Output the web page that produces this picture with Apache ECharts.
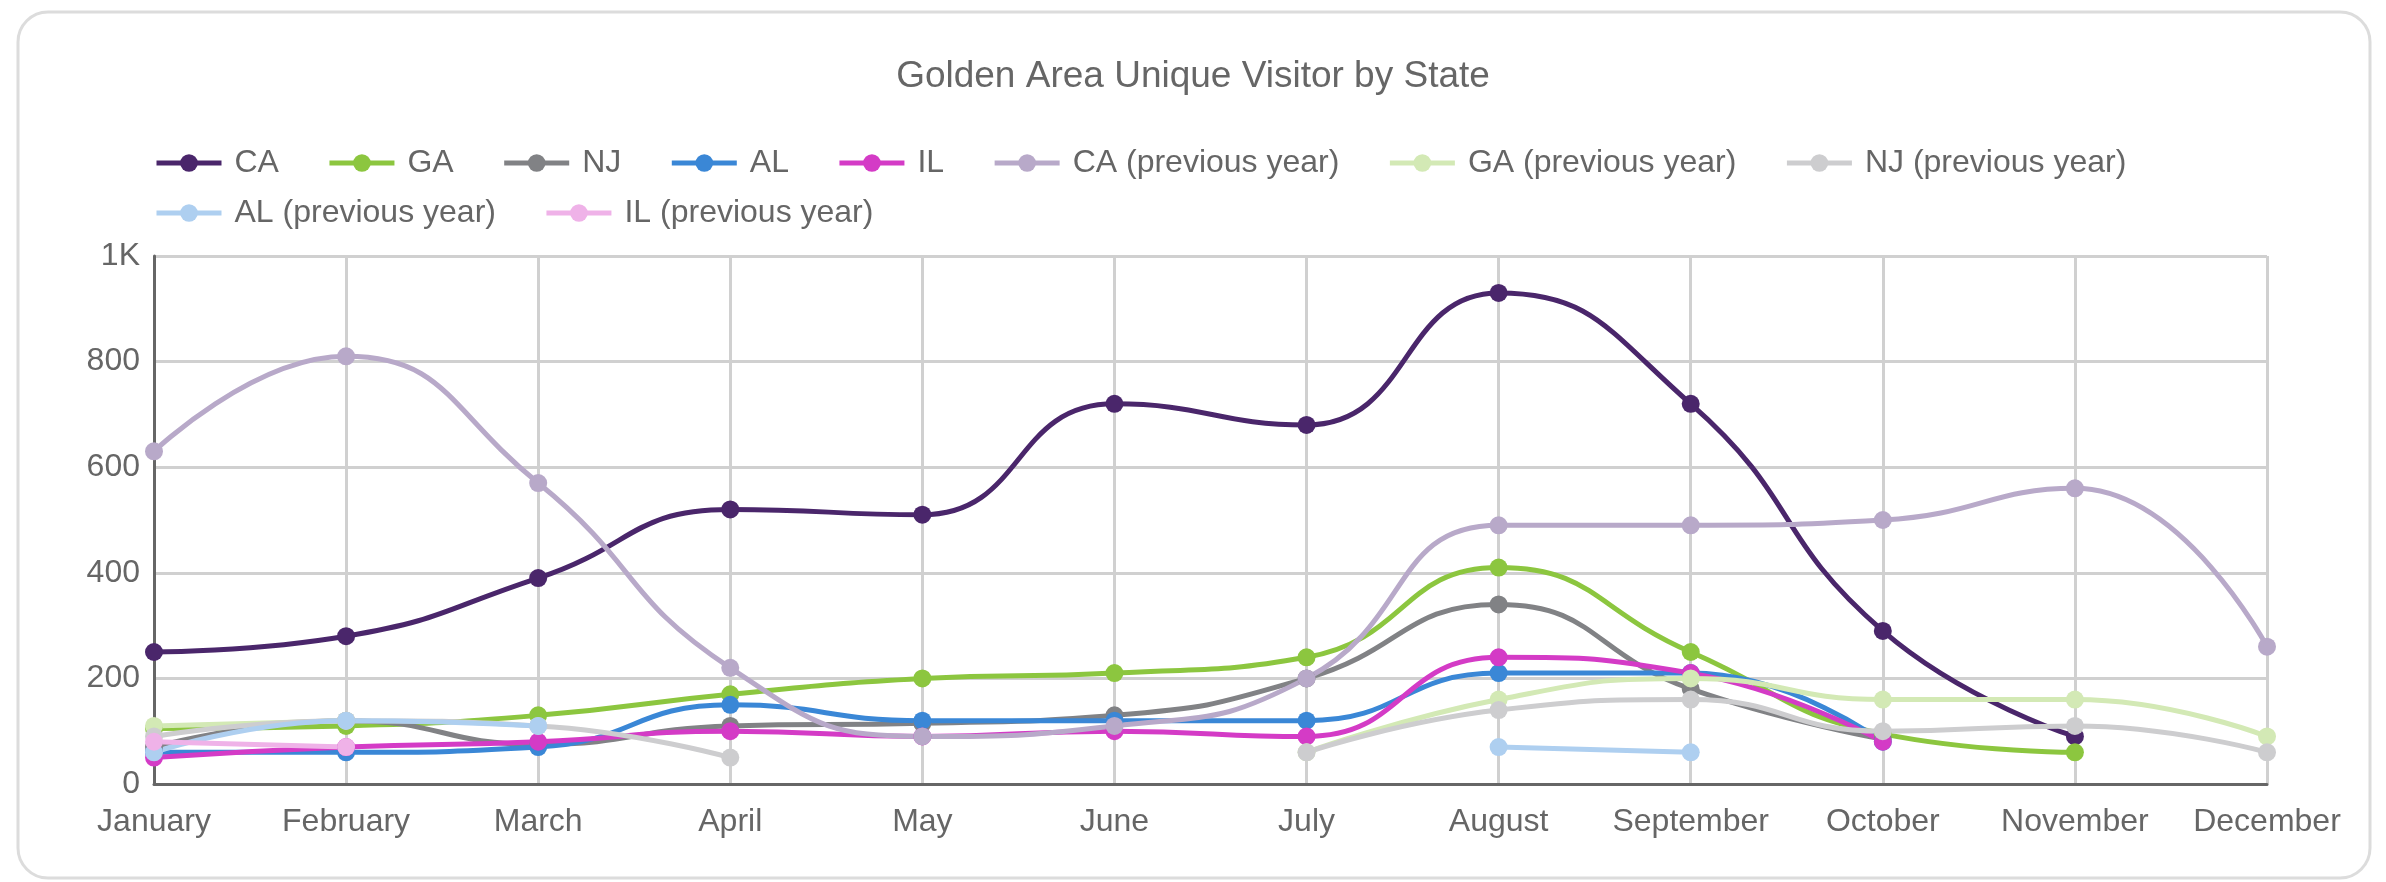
<!DOCTYPE html>
<html>
<head>
<meta charset="utf-8">
<script src="https://cdn.jsdelivr.net/npm/echarts@6/dist/echarts.min.js"></script>
<style>
html,body{margin:0;padding:0;background:#fff;}
#chart{width:2386px;height:882px;}
</style>
</head>
<body>
<div id="chart"></div>
<script>
const months = ['January','February','March','April','May','June','July','August','September','October','November','December'];
const yTicks = [0, 200, 400, 600, 800, 1000];

const CA      = [250, 280, 390, 520, 510, 720, 680, 930, 720, 290, 90, null];
const GA      = [105, 110, 130, 170, 200, 210, 240, 410, 250, 95, 60, null];
const NJ      = [70, 120, 75, 110, 115, 130, 200, 340, 180, 85, null, null];
const AL      = [60, 60, 70, 150, 120, 120, 120, 210, 210, 80, null, null];
const IL      = [50, 70, 80, 100, 90, 100, 90, 240, 210, 80, null, null];
const CA_prev = [630, 810, 570, 220, 90, 110, 200, 490, 490, 500, 560, 260];
const GA_prev = [110, 120, null, null, null, null, 60, 160, 200, 160, 160, 90];
const NJ_prev = [90, 120, 110, 50, null, null, 60, 140, 160, 100, 110, 60];
const AL_prev = [60, 120, 110, null, null, null, null, 70, 60, null, null, null];
const IL_prev = [80, 70, null, null, null, null, null, null, null, null, null, null];

const seriesDefs = [
  ['CA', CA, '#4a266b'],
  ['GA', GA, '#8cc63f'],
  ['NJ', NJ, '#818285'],
  ['AL', AL, '#3a87d6'],
  ['IL', IL, '#d43bc6'],
  ['CA (previous year)', CA_prev, '#b8a9c9'],
  ['GA (previous year)', GA_prev, '#d3e9b5'],
  ['NJ (previous year)', NJ_prev, '#cdcdcf'],
  ['AL (previous year)', AL_prev, '#aecff0'],
  ['IL (previous year)', IL_prev, '#efb2e8']
];

const chart = echarts.init(document.getElementById('chart'), null, {renderer: 'canvas'});

const legendCommon = {
  orient: 'horizontal',
  itemWidth: 65,
  itemHeight: 22,
  itemGap: 48,
  lineStyle: {width: 5},
  textStyle: {fontSize: 32, color: '#666', fontFamily: 'Liberation Sans, Arial, sans-serif', padding: [0, 0, 0, 8], lineHeight: 36}
};

const option = {
  animation: false,
  backgroundColor: '#fff',
  title: {
    text: 'Golden Area Unique Visitor by State',
    left: 'center',
    top: 53,
    textStyle: {fontSize: 37, fontWeight: 'normal', color: '#666', fontFamily: 'Liberation Sans, Arial, sans-serif'}
  },
  legend: [
    Object.assign({}, legendCommon, {left: 149, top: 140, data: seriesDefs.slice(0, 8).map(s => s[0])}),
    Object.assign({}, legendCommon, {left: 149, top: 190, data: seriesDefs.slice(8).map(s => s[0])})
  ],
  graphic: [{
    type: 'rect',
    shape: {x: 18, y: 12, width: 2352, height: 866, r: 30},
    style: {fill: 'none', stroke: '#dcdcdc', lineWidth: 3},
    silent: true,
    z: -10
  }],
  grid: {left: 154, right: 119, top: 256, bottom: 98, containLabel: false},
  xAxis: {
    type: 'category',
    data: months,
    boundaryGap: false,
    axisLine: {lineStyle: {color: '#666', width: 3}},
    axisTick: {show: false},
    axisLabel: {fontSize: 32, color: '#666', margin: 22, fontFamily: 'Liberation Sans, Arial, sans-serif', interval: 0},
    splitLine: {show: true, lineStyle: {color: '#d0d0d0', width: 3}}
  },
  yAxis: {
    type: 'value',
    min: yTicks[0],
    max: yTicks[yTicks.length - 1],
    interval: 200,
    axisLine: {show: true, lineStyle: {color: '#666', width: 3}},
    axisTick: {show: false},
    axisLabel: {
      fontSize: 32, color: '#666', margin: 14, fontFamily: 'Liberation Sans, Arial, sans-serif',
      formatter: v => v >= 1000 ? (v / 1000) + 'K' : String(v)
    },
    splitLine: {lineStyle: {color: '#d0d0d0', width: 3}}
  },
  series: seriesDefs.map(([name, data, color]) => ({
    name: name,
    type: 'line',
    data: data,
    smooth: 0.5,
    symbol: 'circle',
    symbolSize: 18,
    showSymbol: true,
    connectNulls: false,
    itemStyle: {color: color},
    lineStyle: {color: color, width: 5},
    emphasis: {disabled: true}
  }))
};

chart.setOption(option);
</script>
</body>
</html>
